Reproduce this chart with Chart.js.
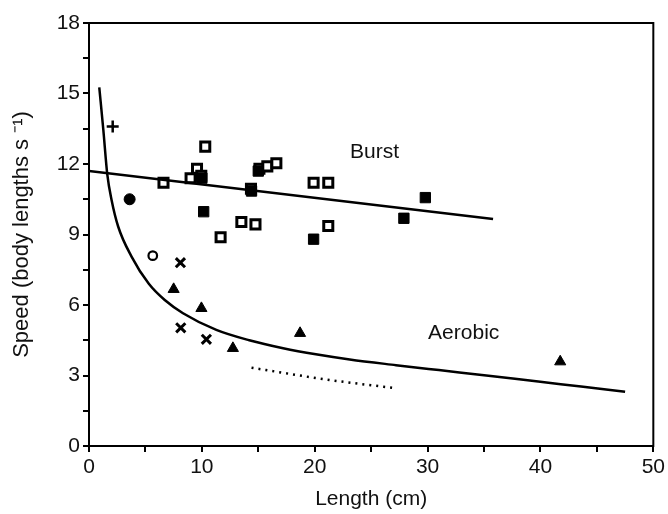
<!DOCTYPE html>
<html>
<head>
<meta charset="utf-8">
<script src="https://cdn.jsdelivr.net/npm/chart.js@4.4.1/dist/chart.umd.min.js"></script>
<style>
  html, body { margin: 0; padding: 0; background: #fff; }
  #wrap { width: 668px; height: 514px; }
</style>
</head>
<body>
<div id="wrap"><canvas id="myChart" width="668" height="514"></canvas></div>
<script>
// datos (x = largo cm, y = velocidad)
const openSquares = [[6.6,11.2],[9.0,11.39],[9.57,11.8],[10.3,12.74],[9.95,11.5],[11.66,8.88],[13.5,9.53],[14.75,9.43],[14.35,10.95],[15.1,11.8],[15.8,11.9],[16.6,12.03],[19.9,11.2],[21.2,11.2],[21.2,9.36]];
const filledSquares = [[10.16,9.97],[19.9,8.8],[27.9,9.69],[29.8,10.57],[10.0,11.4],[15.0,11.7],[14.4,10.85]];
const triangles = [[7.5,6.67],[9.96,5.86],[12.75,4.16],[18.7,4.8],[41.75,3.59]];
const crosses = [[8.1,7.8],[8.13,5.03],[10.4,4.54]];
const plusPts = [[2.1,13.6]];
const filledCircles = [[3.6,10.5]];
const openCircles = [[5.65,8.1]];

const burstLine = [[0,11.7],[35.8,9.66]];
const aerobicCurve = [[0.91,15.26],[1.27,13.45],[1.62,11.56],[2.0,10.47],[2.59,9.33],[3.77,8.06],[5.3,6.9],[6.71,6.21],[8.33,5.65],[11.28,4.94],[14.2,4.5],[17.2,4.16],[20.1,3.9],[23.1,3.68],[27.2,3.44],[31.0,3.23],[35.4,2.99],[39.8,2.74],[43.6,2.53],[47.5,2.31]];
const dottedLine = [[14.4,3.33],[21.3,2.81],[27.0,2.47]];

const xTicks = [0, 10, 20, 30, 40, 50];
const yTicks = [0, 3, 6, 9, 12, 15, 18];
const labelsText = ["Burst", "Aerobic"];
const labelsPos = [[25.3, 12.5], [33.2, 4.8]];

const toXY = arr => arr.map(([x, y]) => ({x, y}));
const FONT = "'Liberation Sans', Arial, Helvetica, sans-serif";

function puntos(data, style, radius, fill, bw) {
  return {
    data: toXY(data),
    pointStyle: style,
    pointRadius: radius,
    pointHoverRadius: radius,
    pointBackgroundColor: fill,
    pointBorderColor: '#000',
    pointBorderWidth: bw,
    showLine: false
  };
}
function linea(data, dash) {
  return {
    data: toXY(data),
    showLine: true,
    pointRadius: 0,
    borderColor: '#000',
    borderWidth: 2.5,
    borderDash: dash || [],
    cubicInterpolationMode: 'monotone',
    fill: false
  };
}

// marco y etiquetas
const marco = {
  id: 'marco',
  afterDraw(chart) {
    const {ctx, chartArea, scales} = chart;
    ctx.save();
    ctx.strokeStyle = '#000';
    ctx.lineWidth = 2;
    ctx.strokeRect(chartArea.left, chartArea.top, chartArea.right - chartArea.left, chartArea.bottom - chartArea.top);
    ctx.fillStyle = '#111';
    ctx.font = '21px ' + FONT;
    ctx.textAlign = 'center';
    ctx.textBaseline = 'middle';
    labelsText.forEach((t, i) => {
      ctx.fillText(t, scales.x.getPixelForValue(labelsPos[i][0]), scales.y.getPixelForValue(labelsPos[i][1]));
    });
    ctx.restore();
  }
};

const data = {
  datasets: [
    linea(burstLine),
    linea(aerobicCurve),
    linea(dottedLine, [2, 5]),
    puntos(filledSquares, 'rect', 7.3, '#000', 1),
    puntos(openSquares, 'rect', 6.4, '#fff', 3),
    puntos(triangles, 'triangle', 6.4, '#000', 1),
    puntos(crosses, 'crossRot', 6.5, '#000', 3),
    puntos(plusPts, 'cross', 6, '#000', 2.5),
    puntos(filledCircles, 'circle', 5.5, '#000', 1),
    puntos(openCircles, 'circle', 4.3, '#fff', 2.2)
  ]
};

const config = {
  type: 'scatter',
  data,
  options: {
    responsive: false,
    animation: false,
    layout: { padding: { top: 23, right: 13, left: 0, bottom: 0 } },
    plugins: { legend: { display: false }, tooltip: { enabled: false } },
    scales: {
      x: {
        type: 'linear', min: 0, max: 50,
        afterFit: s => { s.height = 68; },
        afterBuildTicks: s => { s.ticks = [0,5,10,15,20,25,30,35,40,45,50].map(v => ({value: v})); },
        border: { display: true, color: '#000', width: 2 },
        grid: { drawOnChartArea: false, drawTicks: true, tickLength: 6, color: '#000', lineWidth: 2 },
        ticks: {
          color: '#111', font: { size: 21, family: FONT }, padding: 3, maxRotation: 0,
          callback: v => xTicks.includes(v) ? String(v) : ''
        },
        title: { display: true, text: 'Length (cm)', color: '#111', font: { size: 21, family: FONT }, padding: { top: 2, bottom: 2 } }
      },
      y: {
        type: 'linear', min: 0, max: 18,
        afterFit: s => { s.width = 89; },
        afterBuildTicks: s => { s.ticks = [0,1.5,3,4.5,6,7.5,9,10.5,12,13.5,15,16.5,18].map(v => ({value: v})); },
        border: { display: true, color: '#000', width: 2 },
        grid: { drawOnChartArea: false, drawTicks: true, tickLength: 6, color: '#000', lineWidth: 2 },
        ticks: {
          color: '#111', font: { size: 21, family: FONT }, padding: 3,
          callback: v => yTicks.includes(v) ? String(v) : ''
        },
        title: { display: true, text: 'Speed (body lengths s \u207B\u00B9)', color: '#111', font: { size: 22, family: FONT }, padding: { top: 9, bottom: 4 } }
      }
    }
  },
  plugins: [marco]
};

const chartDOM = document.getElementById("myChart");
const myChart = new Chart(chartDOM, config);
</script>
</body>
</html>
